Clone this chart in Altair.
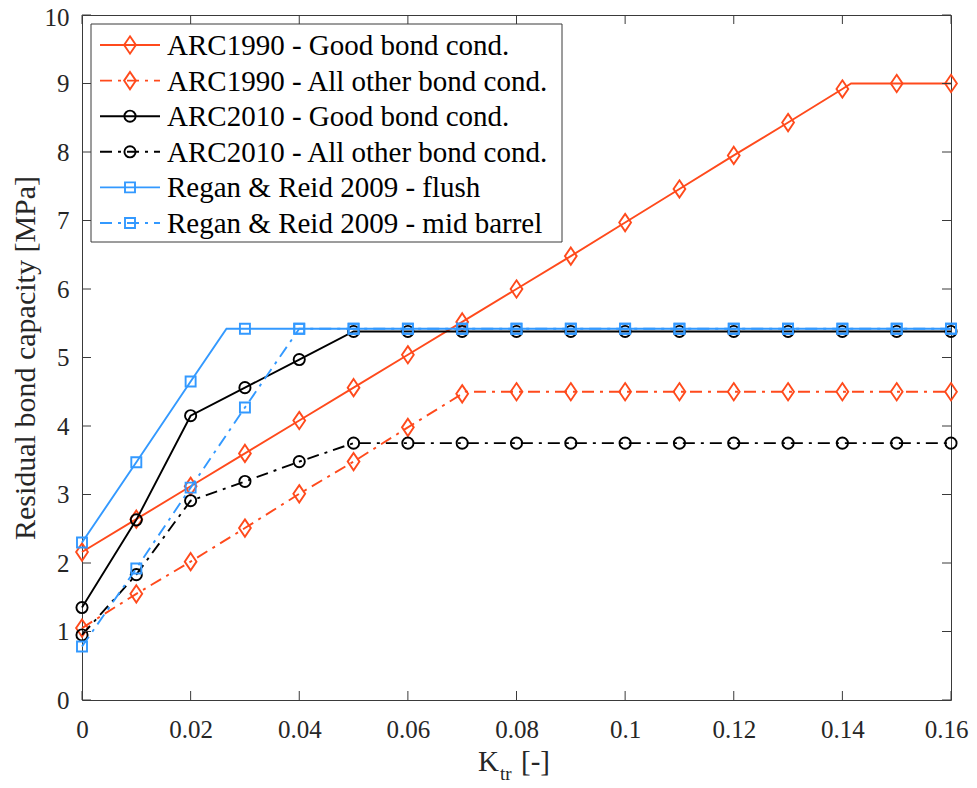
import altair as alt
import pandas as pd

# ---------------- data ----------------
k_tr = [0.00, 0.01, 0.02, 0.03, 0.04, 0.05, 0.06, 0.07, 0.08, 0.09,
        0.10, 0.11, 0.12, 0.13, 0.14, 0.15, 0.16]

arc1990_good = [2.16, 2.64, 3.12, 3.60, 4.08, 4.56, 5.04, 5.52, 6.00, 6.48,
                6.97, 7.46, 7.95, 8.43, 8.92, 9.00, 9.00]
arc1990_other = [1.05, 1.55, 2.02, 2.51, 3.01, 3.48, 3.98, 4.47, 4.50, 4.50,
                 4.50, 4.50, 4.50, 4.50, 4.50, 4.50, 4.50]
arc2010_good = [1.35, 2.63, 4.15, 4.56, 4.97, 5.38, 5.38, 5.38, 5.38, 5.38,
                5.38, 5.38, 5.38, 5.38, 5.38, 5.38, 5.38]
arc2010_other = [0.95, 1.83, 2.91, 3.19, 3.48, 3.75, 3.75, 3.75, 3.75, 3.75,
                 3.75, 3.75, 3.75, 3.75, 3.75, 3.75, 3.75]
regan_flush = [2.30, 3.47, 4.65, 5.42, 5.42, 5.42, 5.42, 5.42, 5.42, 5.42,
               5.42, 5.42, 5.42, 5.42, 5.42, 5.42, 5.42]
regan_mid = [0.78, 1.92, 3.10, 4.27, 5.42, 5.42, 5.42, 5.42, 5.42, 5.42,
             5.42, 5.42, 5.42, 5.42, 5.42, 5.42, 5.42]

# plateau points of the lines that fall between two markers (x, y)
arc1990_good_break = [0.1416, 9.00]
arc1990_other_break = [0.0706, 4.50]
regan_flush_break = [0.0266, 5.42]

series_names = [
    "ARC1990 - Good bond cond.",
    "ARC1990 - All other bond cond.",
    "ARC2010 - Good bond cond.",
    "ARC2010 - All other bond cond.",
    "Regan & Reid 2009 - flush",
    "Regan & Reid 2009 - mid barrel",
]
series_values = [arc1990_good, arc1990_other, arc2010_good, arc2010_other,
                 regan_flush, regan_mid]
series_breaks = [arc1990_good_break, arc1990_other_break, None, None,
                 regan_flush_break, None]

x_ticks = [0, 0.02, 0.04, 0.06, 0.08, 0.10, 0.12, 0.14, 0.16]
y_ticks = [0, 1, 2, 3, 4, 5, 6, 7, 8, 9, 10]

# ---------------- styles ----------------
ORANGE = "#FF4A1C"
BLUE = "#3399FF"
BLACK = "#000000"
DIAMOND = "M0,-1L0.68,0L0,1L-0.68,0Z"
DASHDOT = [12, 6, 3, 6]

series_colors = [ORANGE, ORANGE, BLACK, BLACK, BLUE, BLUE]
series_dash = [None, DASHDOT, None, DASHDOT, None, DASHDOT]
series_shape = [DIAMOND, DIAMOND, "circle", "circle", "square", "square"]
series_size = [300, 300, 125, 125, 100, 100]

W, H = 869, 685
FONT = "Liberation Serif"
AXIS_COLOR = "#3a3a3a"
LW = 1.9

x_axis = alt.Axis(values=x_ticks, format="~g", title=None, labelFlush=False,
                  labelPadding=17, labelOverlap=False, labelBound=False,
                  labelOffset={"condition": {"test": "datum.value > 0.159", "value": -5},
                               "value": 0})
y_axis = alt.Axis(values=y_ticks, format="d", title="Residual bond capacity [MPa]",
                  labelPadding=13, labelFlush=False, labelOverlap=False,
                  labelOffset={"condition": {"test": "datum.value > 9.9", "value": 2},
                               "value": 0},
                  titleAngle=-90, titleX=-57, titleY=H / 2, titleAlign="center",
                  titleBaseline="middle")
x_scale = alt.Scale(domain=[0, 0.16], nice=False, zero=False)
y_scale = alt.Scale(domain=[0, 10], nice=False, zero=False)


def X(field="x"):
    return alt.X(f"{field}:Q", scale=x_scale, axis=x_axis)


def Y(field="y"):
    return alt.Y(f"{field}:Q", scale=y_scale, axis=y_axis)


layers = []

# data series: line then markers, in plotting order
for name, vals, brk, col, dash, shp, sz in zip(series_names, series_values, series_breaks,
                                               series_colors, series_dash, series_shape,
                                               series_size):
    pts = pd.DataFrame({"x": k_tr, "y": vals})
    line_df = pts.copy()
    if brk is not None:
        line_df = pd.concat([line_df, pd.DataFrame({"x": [brk[0]], "y": [brk[1]]})])
    line_df = line_df.sort_values("x").reset_index(drop=True)
    line_kw = dict(color=col, strokeWidth=LW)
    if dash is not None:
        line_kw["strokeDash"] = dash
    layers.append(alt.Chart(line_df).mark_line(**line_kw).encode(
        x=X(), y=Y(), order=alt.Order("x:Q")))
    layers.append(alt.Chart(pts).mark_point(shape=shp, size=sz, filled=False, color=col,
                                            strokeWidth=LW, opacity=1).encode(x=X(), y=Y()))

# inward ticks on all four sides
xt = pd.DataFrame({"x": x_ticks})
yt = pd.DataFrame({"y": y_ticks})
TL = 9
layers.append(alt.Chart(xt).mark_rule(color=AXIS_COLOR, strokeWidth=1).encode(
    x=X(), y=alt.value(H), y2=alt.value(H - TL)))
layers.append(alt.Chart(xt).mark_rule(color=AXIS_COLOR, strokeWidth=1).encode(
    x=X(), y=alt.value(0), y2=alt.value(TL)))
layers.append(alt.Chart(yt).mark_rule(color=AXIS_COLOR, strokeWidth=1).encode(
    y=Y(), x=alt.value(0), x2=alt.value(TL)))
layers.append(alt.Chart(yt).mark_rule(color=AXIS_COLOR, strokeWidth=1).encode(
    y=Y(), x=alt.value(W), x2=alt.value(W - TL)))

# x-axis title: K_tr [-]
one = pd.DataFrame({"a": [0]})
layers.append(alt.Chart(one).mark_text(text="K", font=FONT, fontSize=29, align="left",
                                       baseline="alphabetic", color="#262626").encode(
    x=alt.value(396), y=alt.value(756)))
layers.append(alt.Chart(one).mark_text(text="tr", font=FONT, fontSize=19, align="left",
                                       baseline="alphabetic", color="#262626").encode(
    x=alt.value(418), y=alt.value(765)))
layers.append(alt.Chart(one).mark_text(text="[-]", font=FONT, fontSize=29, align="left",
                                       baseline="alphabetic", color="#262626").encode(
    x=alt.value(439), y=alt.value(756)))

# legend box
LX0, LX1, LY0, LY1 = 9, 480, 9, 227
layers.append(alt.Chart(one).mark_rect(fill="white", stroke=AXIS_COLOR, strokeWidth=1).encode(
    x=alt.value(LX0), x2=alt.value(LX1), y=alt.value(LY0), y2=alt.value(LY1)))
for i, (name, col, dash, shp, sz) in enumerate(zip(series_names, series_colors, series_dash,
                                                   series_shape, series_size)):
    yc = 30 + 35.6 * i
    rule_kw = dict(color=col, strokeWidth=LW)
    if dash is not None:
        rule_kw["strokeDash"] = dash
    layers.append(alt.Chart(one).mark_rule(**rule_kw).encode(
        x=alt.value(18), x2=alt.value(78), y=alt.value(yc)))
    layers.append(alt.Chart(one).mark_point(shape=shp, size=sz, filled=False, color=col,
                                            strokeWidth=LW, opacity=1).encode(
        x=alt.value(48), y=alt.value(yc)))
    layers.append(alt.Chart(one).mark_text(text=name, font=FONT, fontSize=29, align="left",
                                           baseline="middle", color="#000000").encode(
        x=alt.value(85), y=alt.value(yc + 1)))

chart = alt.layer(*layers).properties(
    width=W, height=H,
    autosize=alt.AutoSizeParams(type="none"),
    padding={"left": 74, "top": 7, "right": 18, "bottom": 84},
    background="white",
).configure_view(
    stroke=AXIS_COLOR, strokeWidth=1
).configure_axis(
    domain=False, ticks=False, grid=False,
    labelFont=FONT, labelFontSize=25, labelColor="#262626",
    titleFont=FONT, titleFontSize=30, titleFontWeight="normal", titleColor="#262626",
)

chart.save("out.html", embed_options={"renderer": "svg", "actions": False})
